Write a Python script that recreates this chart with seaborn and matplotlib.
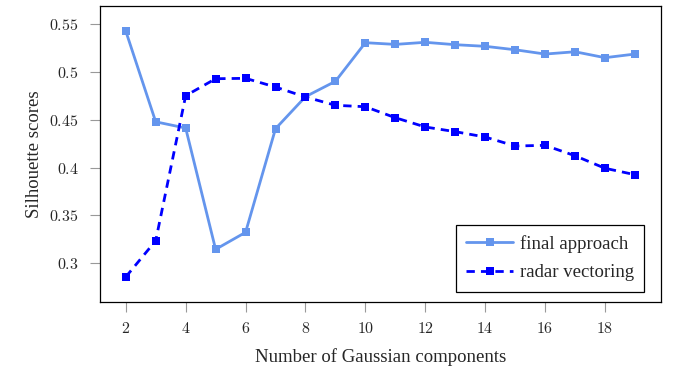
import matplotlib
matplotlib.use("Agg")
import matplotlib.pyplot as plt
import seaborn as sns
import pandas as pd

components = list(range(2, 20))
final_approach = [0.543, 0.448, 0.4415, 0.3146, 0.3324, 0.4408, 0.4743, 0.4904, 0.5308,
                  0.529, 0.5312, 0.5287, 0.527, 0.5234, 0.5189, 0.5213, 0.5151, 0.5189]
radar_vectoring = [0.2857, 0.3236, 0.4753, 0.4931, 0.4935, 0.4844, 0.474, 0.4653, 0.4638,
                   0.4523, 0.4426, 0.4377, 0.4321, 0.4227, 0.4234, 0.4125, 0.3994, 0.3927]
x_ticks = [2, 4, 6, 8, 10, 12, 14, 16, 18]
y_ticks = [0.3, 0.35, 0.4, 0.45, 0.5, 0.55]
y_tick_labels = ["0.3", "0.35", "0.4", "0.45", "0.5", "0.55"]

sns.set_style("white")
plt.rcParams["font.family"] = ["Liberation Serif", "DejaVu Serif"]
plt.rcParams["mathtext.fontset"] = "cm"

df = pd.DataFrame({
    "x": components * 2,
    "y": final_approach + radar_vectoring,
    "series": ["final approach"] * len(components) + ["radar vectoring"] * len(components),
})

fig = plt.figure(figsize=(6.77, 3.70), dpi=100)
ax = fig.add_axes([100 / 677, 1 - 302 / 370, 561 / 677, 296.5 / 370])

sns.lineplot(data=df[df.series == "final approach"], x="x", y="y", ax=ax,
             color="#6495ED", lw=2, marker="s", markersize=5.5, markeredgewidth=0,
             label="final approach")
sns.lineplot(data=df[df.series == "radar vectoring"], x="x", y="y", ax=ax,
             color="#0000FF", lw=2, marker="s", markersize=5.5, markeredgewidth=0,
             dashes=(3, 2.2), label="radar vectoring")

ax.set_xlim(1.14, 19.87)
ax.set_ylim(0.2595, 0.5697)
ax.set_xticks(x_ticks)
ax.set_xticklabels([f"${t}$" for t in x_ticks], fontsize=11.5)
ax.set_yticks(y_ticks)
ax.set_yticklabels([f"${t}$" for t in y_tick_labels], fontsize=11.5)
ax.tick_params(axis="both", direction="out", length=7.5, width=0.8, color="#999999",
               bottom=True, left=True)
ax.tick_params(axis="y", pad=8)
ax.tick_params(axis="x", pad=6)
for s in ax.spines.values():
    s.set_color("black")
    s.set_linewidth(0.9)

ax.set_xlabel("Number of Gaussian components", fontsize=13.5, labelpad=8)
ax.set_ylabel("Silhouette scores", fontsize=13.5, labelpad=4)

leg = ax.legend(loc="lower right", bbox_to_anchor=(0.9697, 0.0347), borderaxespad=0,
                fontsize=13.5, frameon=True, fancybox=False, edgecolor="black",
                framealpha=1, handlelength=2.5, handletextpad=0.35, labelspacing=0.6,
                borderpad=0.55)
leg.get_frame().set_linewidth(0.9)

fig.savefig("out.png", dpi=100)
